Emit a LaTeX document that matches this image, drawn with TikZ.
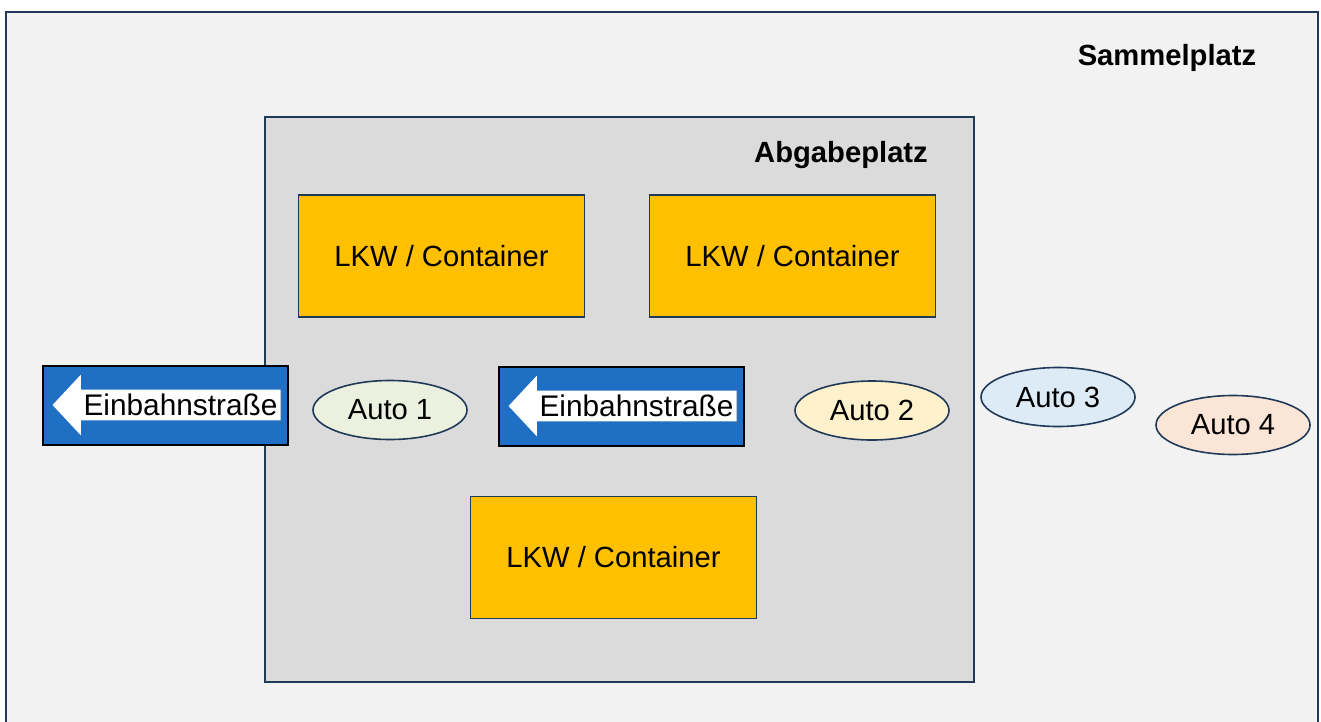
\documentclass[tikz,border=0pt]{standalone}
\usepackage{fontspec}
\setmainfont{Liberation Sans}
\usepackage{tikz}
\usetikzlibrary{shapes.geometric}
\usetikzlibrary{shapes.arrows}

\definecolor{frameblue}{HTML}{203A58}
\definecolor{platzgray}{HTML}{F2F2F2}
\definecolor{abgabegray}{HTML}{DBDBDB}
\definecolor{lkwyellow}{HTML}{FFC000}
\definecolor{signblue}{HTML}{1F6FC4}
\definecolor{autogreen}{HTML}{EBF1DE}
\definecolor{autoyellow}{HTML}{FEF1CC}
\definecolor{autoblue}{HTML}{DDEBF7}
\definecolor{autopeach}{HTML}{FBE5D6}

\begin{document}
\begin{tikzpicture}[x=0.5pt, y=-0.5pt,
        every node/.style={font=\fontsize{14.6}{17}\selectfont},
        lkwbox/.style={rectangle, draw=frameblue, line width=0.8pt, fill=lkwyellow,
                minimum width=143pt, minimum height=61pt},
        auto/.style={ellipse, draw=frameblue, line width=0.8pt, inner sep=0pt,
                minimum width=77pt, minimum height=29.5pt},
        signbox/.style={rectangle, draw=black, line width=1pt, fill=signblue,
                minimum width=122.5pt, minimum height=39.5pt},
        oneway/.style={single arrow, fill=white, shape border rotate=180, anchor=tip,
                text height=10.6pt, text depth=0pt, inner xsep=0pt, inner ysep=2.2pt,
                minimum height=114pt, single arrow head extend=7.5pt, single arrow tip angle=94},
        signtext/.style={font=\fontsize{14.9}{17}\selectfont, inner sep=0pt}]
        \useasboundingbox (0,0) rectangle (1321,722);

        \fill [platzgray] (6,12) rectangle (1318,722);
        \draw [frameblue, line width=1.2pt] (6,722) -- (6,12) -- (1318,12) -- (1318,722);
        \node (sammel) at (1167,58) [font=\fontsize{14.6}{17}\selectfont\bfseries] {Sammelplatz};

        \draw [frameblue, line width=1pt, fill=abgabegray] (265,117) rectangle (974,682);
        \node (abgabe) at (841,155) [font=\fontsize{14.6}{17}\selectfont\bfseries] {Abgabeplatz};

        \node (lkw1) at (441.5,256) [lkwbox] {LKW / Container};
        \node (lkw2) at (792.5,256) [lkwbox] {LKW / Container};
        \node (lkw3) at (613.5,557.5) [lkwbox] {LKW / Container};

        \node (sign1) at (165,405.5) [signbox] {};
        \node (arrow1) at (52,405) [oneway] {};
        \node (text1) at (180.5,405) [signtext] {Einbahnstraße};
        \node (sign2) at (621.5,406) [signbox] {};
        \node (arrow2) at (508,406) [oneway] {};
        \node (text2) at (636.5,406) [signtext] {Einbahnstraße};

        \node (auto1) at (390,410) [auto, fill=autogreen] {Auto 1};
        \node (auto2) at (872,410.5) [auto, fill=autoyellow] {Auto 2};
        \node (auto3) at (1058,397) [auto, fill=autoblue] {Auto 3};
        \node (auto4) at (1233,425) [auto, fill=autopeach] {Auto 4};
    \end{tikzpicture}
\end{document}
